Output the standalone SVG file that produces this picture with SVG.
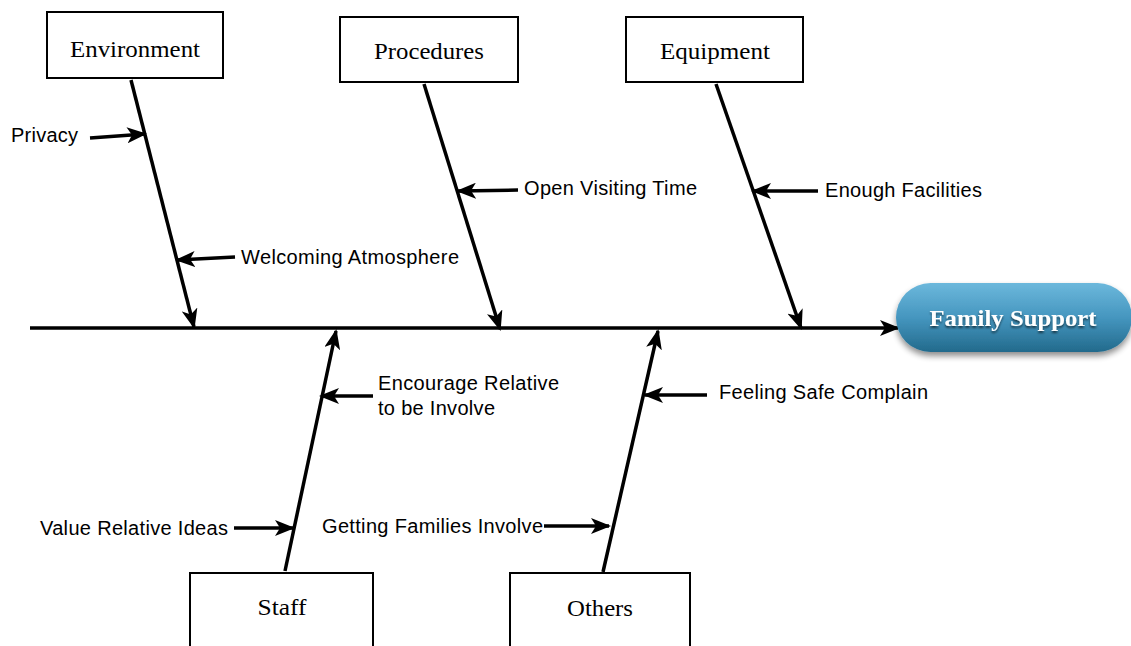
<svg xmlns="http://www.w3.org/2000/svg" width="1131" height="646" viewBox="0 0 1131 646">
  <style>
    .box { fill: #ffffff; stroke: #000000; stroke-width: 2; }
    .boxlabel { font-family: "Liberation Serif", "Times New Roman", serif; font-size: 24px; fill: #000000; text-anchor: middle; }
    .label { font-family: "Liberation Sans", Arial, sans-serif; font-size: 20px; fill: #000000; }
    .bone { stroke: #000000; stroke-width: 3.5; fill: none; marker-end: url(#head); }
    .twig { stroke: #000000; stroke-width: 3.5; fill: none; marker-end: url(#head); }
    .headtext { font-family: "Liberation Serif", "Times New Roman", serif; font-size: 24px; font-weight: bold; fill: #ffffff; text-anchor: middle; }
  </style>
  <defs>
    <marker id="head" viewBox="0 0 20 16" markerWidth="20" markerHeight="16" refX="18" refY="8" orient="auto" markerUnits="userSpaceOnUse">
      <path d="M0,0 L20,8 L0,16 L5,8 z" fill="#000000"/>
    </marker>
    <linearGradient id="pill" x1="0" y1="0" x2="0" y2="1">
      <stop offset="0" stop-color="#6cb8dc"/>
      <stop offset="0.5" stop-color="#4596bf"/>
      <stop offset="1" stop-color="#226a8c"/>
    </linearGradient>
    <filter id="drop" x="-10%" y="-20%" width="120%" height="150%">
      <feGaussianBlur in="SourceAlpha" stdDeviation="3"/>
      <feOffset dx="0" dy="4" result="b"/>
      <feComponentTransfer><feFuncA type="linear" slope="0.45"/></feComponentTransfer>
      <feMerge><feMergeNode/><feMergeNode in="SourceGraphic"/></feMerge>
    </filter>
    <filter id="txtshadow" x="-10%" y="-30%" width="120%" height="160%">
      <feGaussianBlur in="SourceAlpha" stdDeviation="1.2"/>
      <feOffset dx="0" dy="1.5"/>
      <feComponentTransfer><feFuncA type="linear" slope="0.6"/></feComponentTransfer>
      <feMerge><feMergeNode/><feMergeNode in="SourceGraphic"/></feMerge>
    </filter>
  </defs>

  <rect width="1131" height="646" fill="#ffffff"/>

  <!-- spine, bones and twigs -->
  <g id="connectors">
    <line class="bone" x1="30" y1="328" x2="898" y2="328"/>
    <!-- upper bones -->
    <line class="bone" x1="131" y1="80" x2="194" y2="327"/>
    <line class="bone" x1="424" y1="84" x2="500" y2="329"/>
    <line class="bone" x1="716" y1="84" x2="801" y2="328"/>
    <!-- lower bones -->
    <line class="bone" x1="285" y1="571" x2="336" y2="331"/>
    <line class="bone" x1="603" y1="572" x2="658" y2="331"/>
    <!-- causes -->
    <line class="twig" x1="90" y1="138" x2="145" y2="134"/>
    <line class="twig" x1="235" y1="257" x2="177" y2="260"/>
    <line class="twig" x1="518" y1="190" x2="458" y2="191"/>
    <line class="twig" x1="818" y1="191" x2="753" y2="191"/>
    <line class="twig" x1="373" y1="396" x2="321" y2="396"/>
    <line class="twig" x1="707" y1="395" x2="645" y2="395"/>
    <line class="twig" x1="234" y1="528" x2="293" y2="528"/>
    <line class="twig" x1="544" y1="526" x2="609" y2="526"/>
  </g>

  <g id="cause-labels">
    <text class="label" x="11" y="142" textLength="67" lengthAdjust="spacing">Privacy</text>
    <text class="label" x="241" y="264" textLength="218" lengthAdjust="spacing">Welcoming Atmosphere</text>
    <text class="label" x="524" y="195" textLength="173" lengthAdjust="spacing">Open Visiting Time</text>
    <text class="label" x="825" y="197" textLength="157" lengthAdjust="spacing">Enough Facilities</text>
    <text class="label" x="378" y="390" textLength="181" lengthAdjust="spacing">Encourage Relative</text>
    <text class="label" x="378" y="415" textLength="117" lengthAdjust="spacing">to be Involve</text>
    <text class="label" x="719" y="399" textLength="209" lengthAdjust="spacing">Feeling Safe Complain</text>
    <text class="label" x="40" y="535" textLength="188" lengthAdjust="spacing">Value Relative Ideas</text>
    <text class="label" x="322" y="533" textLength="221" lengthAdjust="spacing">Getting Families Involve</text>
  </g>

  <g id="environment">
    <rect class="box" x="47" y="12" width="176" height="66"/>
    <text class="boxlabel" x="135" y="57" textLength="130" lengthAdjust="spacingAndGlyphs">Environment</text>
  </g>
  <g id="procedures">
    <rect class="box" x="340" y="17" width="178" height="65"/>
    <text class="boxlabel" x="429" y="59" textLength="110" lengthAdjust="spacingAndGlyphs">Procedures</text>
  </g>
  <g id="equipment">
    <rect class="box" x="626" y="17" width="177" height="65"/>
    <text class="boxlabel" x="715" y="59" textLength="110" lengthAdjust="spacingAndGlyphs">Equipment</text>
  </g>
  <g id="staff">
    <rect class="box" x="190" y="573" width="183" height="80"/>
    <text class="boxlabel" x="282" y="615" textLength="49" lengthAdjust="spacingAndGlyphs">Staff</text>
  </g>
  <g id="others">
    <rect class="box" x="510" y="573" width="180" height="80"/>
    <text class="boxlabel" x="600" y="616" textLength="66" lengthAdjust="spacingAndGlyphs">Others</text>
  </g>

  <g id="family-support">
    <rect x="896" y="283" width="236" height="69" rx="34.5" ry="34.5" fill="url(#pill)" filter="url(#drop)"/>
    <text class="headtext" x="1013" y="326" filter="url(#txtshadow)" textLength="167" lengthAdjust="spacingAndGlyphs">Family Support</text>
  </g>
</svg>
